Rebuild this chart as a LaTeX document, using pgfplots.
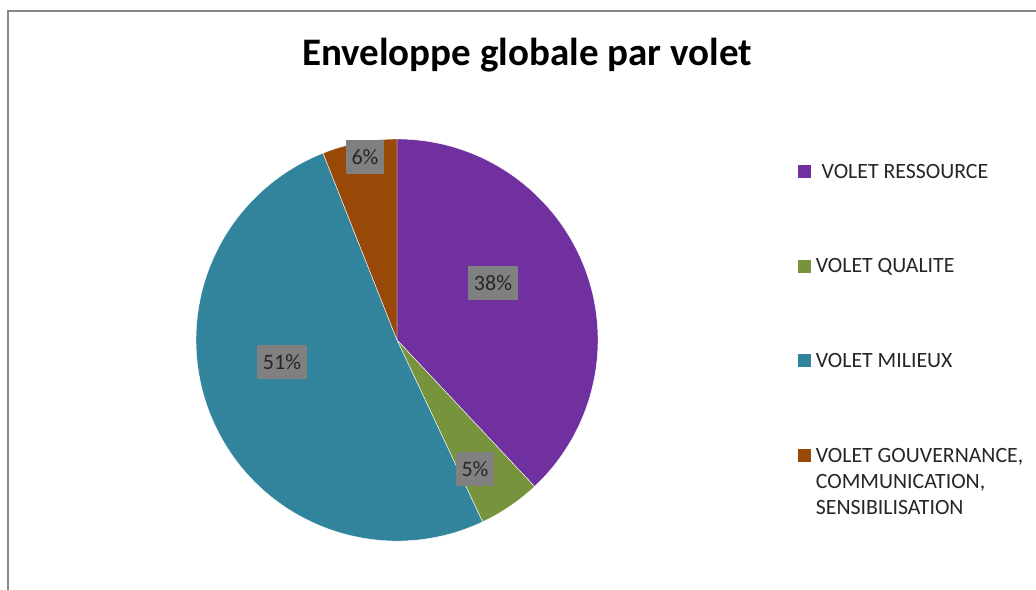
\documentclass[border=0pt]{standalone}
\usepackage{pgfplots}
\pgfplotsset{compat=1.18}
\usepackage{pgfplotstable}
\usepackage{fontspec}
\setmainfont{Carlito}
\definecolor{cRes}{HTML}{7030A0}
\definecolor{cQua}{HTML}{77933C}
\definecolor{cMil}{HTML}{31849B}
\definecolor{cGov}{HTML}{984807}
\definecolor{cLab}{HTML}{808080}
\definecolor{cTxt}{HTML}{262626}
\definecolor{cFrame}{HTML}{868686}

\pgfplotstableread{
volet value
Ressource 38
Qualite 5
Milieux 51
Gouvernance 6
}\piedata

\begin{document}
\begin{tikzpicture}
\pgfplotstablegetelem{0}{value}\of\piedata\pgfmathsetmacro\vA{\pgfplotsretval}
\pgfplotstablegetelem{1}{value}\of\piedata\pgfmathsetmacro\vB{\pgfplotsretval}
\pgfplotstablegetelem{2}{value}\of\piedata\pgfmathsetmacro\vC{\pgfplotsretval}
\pgfplotstablegetelem{3}{value}\of\piedata\pgfmathsetmacro\vD{\pgfplotsretval}
\pgfmathsetmacro\aA{90}
\pgfmathsetmacro\aB{\aA-3.6*\vA}
\pgfmathsetmacro\aC{\aB-3.6*\vB}
\pgfmathsetmacro\aD{\aC-3.6*\vC}
\pgfmathsetmacro\aE{\aD-3.6*\vD}
\def\R{201}
\begin{axis}[
  x=1pt, y=1pt,
  xmin=-397, xmax=639, ymin=-249, ymax=340,
  hide axis, clip=false,
]
\fill[cRes, draw=white, line width=0.4pt] (axis cs:0,0) -- (axis cs:{\R*cos(\aA)},{\R*sin(\aA)}) arc[start angle=\aA, end angle=\aB, radius=\R pt] -- cycle;
\fill[cQua, draw=white, line width=0.4pt] (axis cs:0,0) -- (axis cs:{\R*cos(\aB)},{\R*sin(\aB)}) arc[start angle=\aB, end angle=\aC, radius=\R pt] -- cycle;
\fill[cMil, draw=white, line width=0.4pt] (axis cs:0,0) -- (axis cs:{\R*cos(\aC)},{\R*sin(\aC)}) arc[start angle=\aC, end angle=\aD, radius=\R pt] -- cycle;
\fill[cGov, draw=white, line width=0.4pt] (axis cs:0,0) -- (axis cs:{\R*cos(\aD)},{\R*sin(\aD)}) arc[start angle=\aD, end angle=\aE, radius=\R pt] -- cycle;

% data labels
\tikzset{lab/.style={fill=cLab, text=cTxt, font=\fontsize{22}{24}\selectfont, inner xsep=6pt, inner ysep=0pt, minimum height=34pt, anchor=center}}
\node[lab] at (axis cs:96,57) {38\%};
\node[lab] at (axis cs:78,-129) {5\%};
\node[lab] at (axis cs:-115,-22) {51\%};
\node[lab] at (axis cs:-32,183) {6\%};

% title
\node[anchor=base, text=black, font=\fontsize{39}{42}\selectfont\bfseries] at (axis cs:130,274) {Enveloppe globale par volet};

% legend
\tikzset{sq/.style={minimum size=13pt, inner sep=0pt, anchor=center},
         lt/.style={anchor=base west, inner sep=0pt, text=cTxt, font=\fontsize{21.8}{26.5}\selectfont}}
\node[sq, fill=cRes] at (axis cs:407.7,168.3) {};
\node[sq, fill=cQua] at (axis cs:407.7,73.6) {};
\node[sq, fill=cMil] at (axis cs:407.7,-20.3) {};
\node[sq, fill=cGov] at (axis cs:407.7,-115.3) {};
\node[lt] at (axis cs:424.5,161.7) {VOLET RESSOURCE};
\node[lt] at (axis cs:418.7,67.3) {VOLET QUALITE};
\node[lt] at (axis cs:418.7,-27.3) {VOLET MILIEUX};
\node[lt] at (axis cs:418.7,-122.3) {VOLET GOUVERNANCE,};
\node[lt] at (axis cs:418.7,-148.6) {COMMUNICATION,};
\node[lt] at (axis cs:418.7,-175) {SENSIBILISATION};

% frame
\draw[cFrame, line width=1.3pt] (axis cs:-389,-260) -- (axis cs:-389,329) -- (axis cs:650,329);
\end{axis}
\pgfresetboundingbox
\path[use as bounding box] (current axis.south west) rectangle (current axis.north east);
\end{tikzpicture}
\end{document}
